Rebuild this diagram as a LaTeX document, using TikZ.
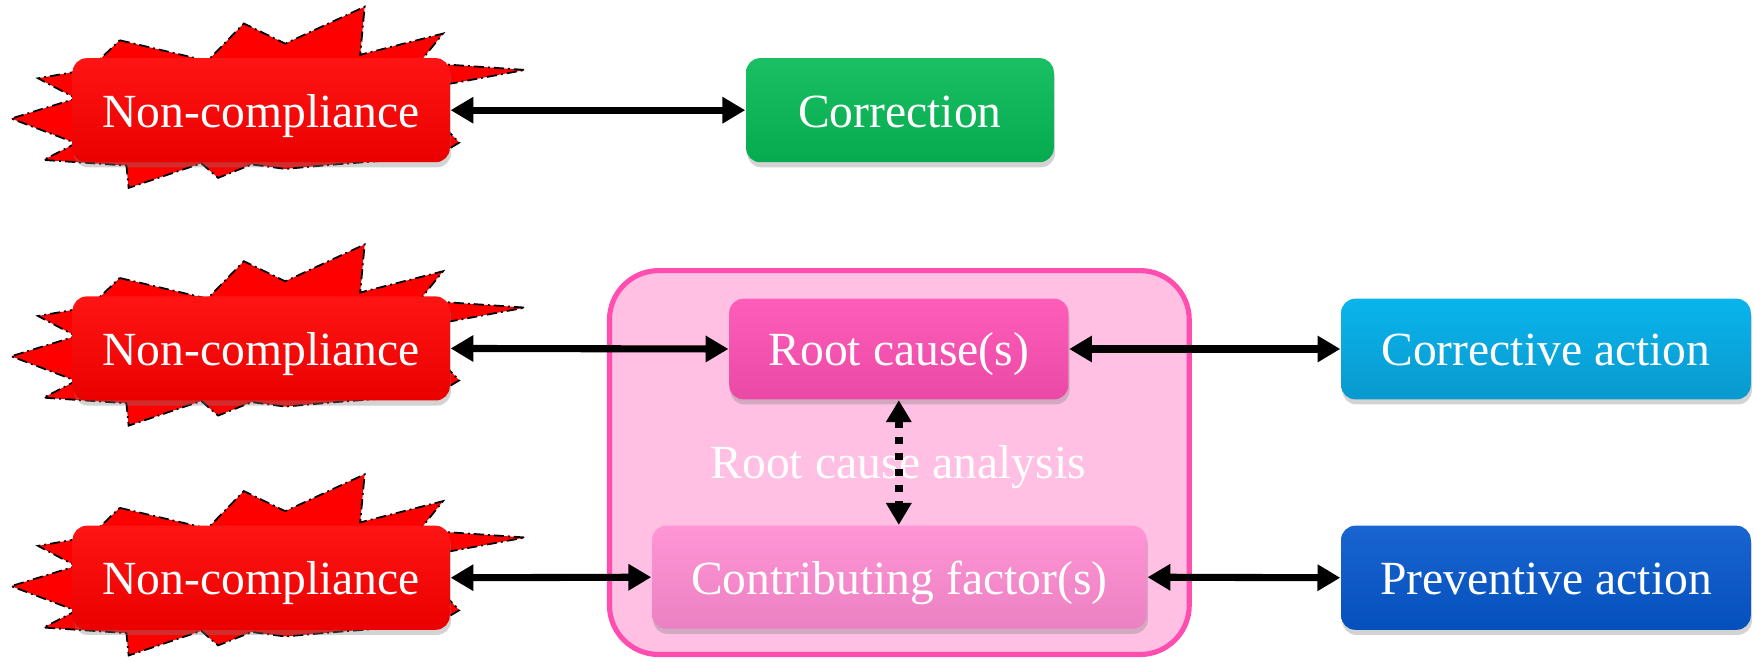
\documentclass[tikz,border=0pt]{standalone}
\usepackage{fontspec}
\setmainfont{Liberation Serif}
\usetikzlibrary{arrows.meta,shadows}
\definecolor{ncmain}{HTML}{FF0000}
\definecolor{grmain}{HTML}{07BA56}
\definecolor{rcmain}{HTML}{FF4FB4}
\definecolor{cfmain}{HTML}{FF8CD2}
\definecolor{camain}{HTML}{0AAEEA}
\definecolor{pamain}{HTML}{0557CC}
\definecolor{contfill}{HTML}{FFC0E3}\definecolor{contline}{HTML}{FF4DB0}
\tikzset{
  boxbase/.style={rounded corners=3.6pt, text=white, inner sep=0pt,
    font=\fontsize{12.1}{14}\selectfont, text height=8.6pt, text depth=0pt,
    drop shadow={shadow xshift=0.3pt, shadow yshift=-1.3pt, opacity=0.35}},
  shadebox/.style={top color=#1!92!white, middle color=#1, bottom color=#1!92!black},
  ncbox/.style={boxbase, shadebox=ncmain, minimum width=3.37cm, minimum height=0.93cm},
  grbox/.style={boxbase, shadebox=grmain, minimum width=2.75cm, minimum height=0.93cm},
  rcbox/.style={boxbase, shadebox=rcmain, minimum width=3.03cm, minimum height=0.90cm},
  cfbox/.style={boxbase, shadebox=cfmain, minimum width=4.42cm, minimum height=0.92cm},
  cabox/.style={boxbase, top color=camain!92!cyan, middle color=camain, bottom color=camain!88!black,
    minimum width=3.66cm, minimum height=0.90cm},
  pabox/.style={boxbase, shadebox=pamain, minimum width=3.66cm, minimum height=0.93cm},
  contbox/.style={rounded corners=12.5pt, fill=contfill, draw=contline, line width=1.3pt,
    minimum width=5.18cm, minimum height=3.43cm, inner sep=0pt},
  burstline/.style={fill=ncmain, draw=black, line width=0.45pt,
    dash pattern=on 2.6pt off 1pt on 0.5pt off 1pt},
  conn/.style={line width=1.8pt, {Triangle[length=5.8pt,width=6.4pt]}-{Triangle[length=5.8pt,width=6.4pt]}},
  dotconn/.style={line width=1.9pt, dash pattern=on 1.7pt off 2.4pt,
    {Triangle[length=5.6pt,width=6.2pt]}-{Triangle[length=5.6pt,width=6.2pt]}},
  burstpic/.pic={
    \draw[burstline] (-126.5,-62.5) -- (-48,-44) -- (-15.5,-77.5) -- (21.5,-59.5)
      -- (92.5,-92.5) -- (88.5,-49.5) -- (162.5,-68.5) -- (141.5,-42.5)
      -- (236,-36) -- (160,-22) -- (165,16.5) -- (177,29) -- (156.5,41.5)
      -- (66.5,48.5) -- (21.5,52.5) -- (-8.5,48.5) -- (-38.5,60.5) -- (-53.5,47.5)
      -- (-118.5,69.5) -- (-120.5,49.5) -- (-194.5,44.5) -- (-165.5,29.5)
      -- (-223.5,7.5) -- (-165.5,-10.5) -- (-199.5,-28.5) -- (-153.5,-36.5) -- cycle;
  }
}
\begin{document}
\begin{tikzpicture}[x=0.01cm,y=-0.01cm]
\useasboundingbox (0,0) rectangle (1568,591);
% container
\node[contbox] (cont) at (804,413.5) {};
\node[text=white, font=\fontsize{12.1}{14}\selectfont] (rca) at (803,418) {Root cause analysis};
% bursts
\pic at (233.5,98.5) {burstpic};
\pic at (233.5,311) {burstpic};
\pic at (233.5,516.5) {burstpic};
% boxes
\node[ncbox] (nc1) at (233.5,98.5) {Non-compliance};
\node[grbox] (corr) at (804.5,98.5) {Correction};
\node[ncbox] (nc2) at (233.5,311.5) {Non-compliance};
\node[rcbox] (rc) at (803.5,312) {Root cause(s)};
\node[cabox] (ca) at (1382,312) {Corrective action};
\node[ncbox] (nc3) at (233.5,516.5) {Non-compliance};
\node[cfbox] (cf) at (804,516) {Contributing factor(s)};
\node[pabox] (pa) at (1382,516.5) {Preventive action};
% connectors
\draw[conn] (nc1.east) -- (corr.west);
\draw[conn] (nc2.east) -- (rc.west);
\draw[conn] (rc.east) -- (ca.west);
\draw[conn] (nc3.east) -- (cf.west);
\draw[conn] (cf.east) -- (pa.west);
\draw[dotconn] (rc.south) -- (rc.south |- cf.north);
\end{tikzpicture}
\end{document}
